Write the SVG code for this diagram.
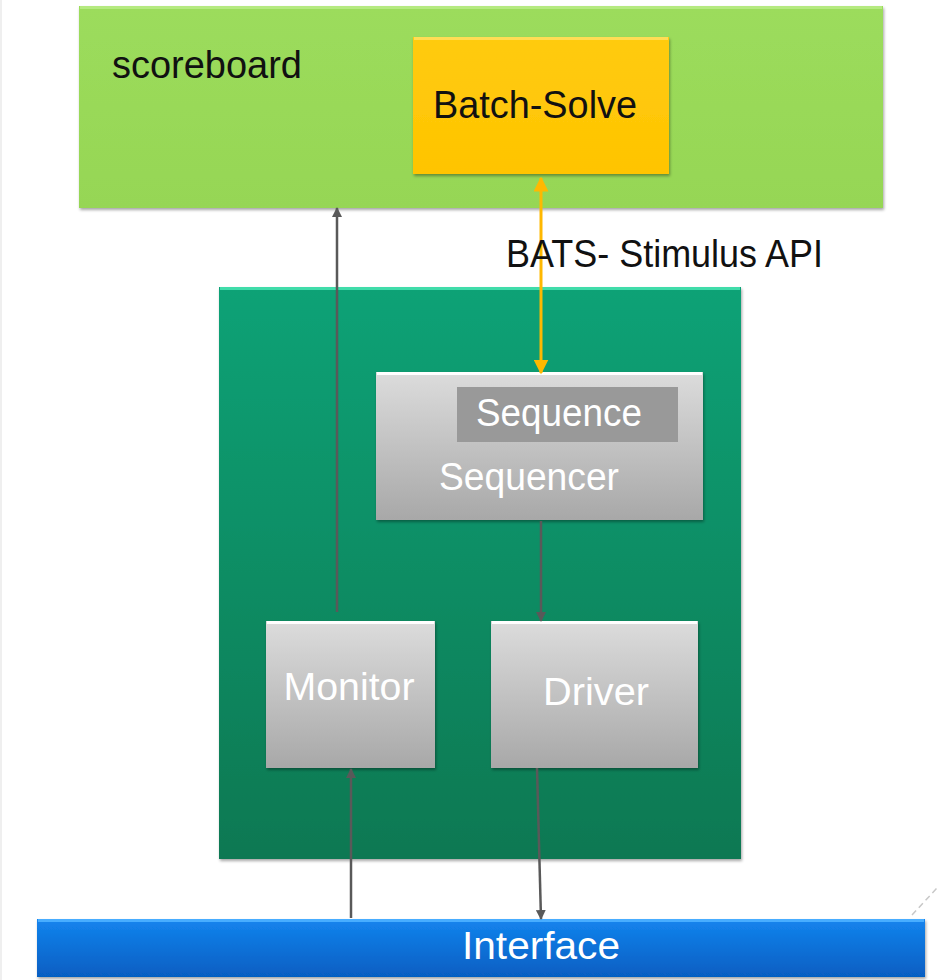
<svg xmlns="http://www.w3.org/2000/svg" width="937" height="980" viewBox="0 0 937 980">
  <defs>
    <linearGradient id="gGreen" x1="0" y1="0" x2="0" y2="1">
      <stop offset="0" stop-color="#9CDC5C"/>
      <stop offset="1" stop-color="#96D655"/>
    </linearGradient>
    <linearGradient id="gGold" x1="0" y1="0" x2="0" y2="1">
      <stop offset="0" stop-color="#FFCB10"/>
      <stop offset="1" stop-color="#FFC400"/>
    </linearGradient>
    <linearGradient id="gTeal" x1="0" y1="0" x2="0" y2="1">
      <stop offset="0" stop-color="#0AA276"/>
      <stop offset="1" stop-color="#087852"/>
    </linearGradient>
    <linearGradient id="gGray" x1="0" y1="0" x2="0" y2="1">
      <stop offset="0" stop-color="#DCDCDC"/>
      <stop offset="1" stop-color="#A8A8A8"/>
    </linearGradient>
    <linearGradient id="gBlue" x1="0" y1="0" x2="0" y2="1">
      <stop offset="0" stop-color="#1484EE"/>
      <stop offset="1" stop-color="#065EC2"/>
    </linearGradient>
    <filter id="shadow" x="-5%" y="-5%" width="110%" height="115%">
      <feDropShadow dx="1" dy="2" stdDeviation="1.5" flood-color="#000" flood-opacity="0.35"/>
    </filter>
    <marker id="arrGray" viewBox="0 0 10 10" refX="9" refY="5" markerWidth="4" markerHeight="4" orient="auto-start-reverse">
      <path d="M0,0 L10,5 L0,10 z" fill="#595959"/>
    </marker>
    <marker id="arrGold" viewBox="0 0 10 10" refX="9" refY="5" markerWidth="5" markerHeight="5" orient="auto-start-reverse">
      <path d="M0,0 L10,5 L0,10 z" fill="#FFB800"/>
    </marker>
  </defs>
  <style>
    .lbl { font-family: "Liberation Sans", Arial, sans-serif; font-size: 38px; }
    .dark { fill: #111111; }
    .light { fill: #FFFFFF; }
    .wire { stroke: #595959; stroke-width: 2.5; fill: none; }
    .gold { stroke: #FFB800; stroke-width: 3; fill: none; }
    .hi { fill: none; stroke-width: 3; }
  </style>

  <rect width="937" height="980" fill="#FFFFFF"/>
  <line x1="1" y1="0" x2="1" y2="980" stroke="#EFEFEF" stroke-width="2"/>
  <line x1="912" y1="915" x2="937" y2="888" stroke="#C8C8C8" stroke-width="1.5" stroke-dasharray="6 4"/>

  <g id="scoreboard">
    <rect x="79" y="6" width="804" height="202" fill="url(#gGreen)" filter="url(#shadow)"/>
    <line class="hi" x1="80" y1="7.5" x2="882" y2="7.5" stroke="#B5EA80"/>
    <text class="lbl dark" x="112" y="78" textLength="190" lengthAdjust="spacingAndGlyphs">scoreboard</text>
  </g>

  <g id="batch-solve">
    <rect x="413" y="37" width="256" height="137" fill="url(#gGold)" filter="url(#shadow)"/>
    <line class="hi" x1="414" y1="38.5" x2="668" y2="38.5" stroke="#FFDD55"/>
    <text class="lbl dark" x="535" y="118" text-anchor="middle" textLength="204" lengthAdjust="spacingAndGlyphs">Batch-Solve</text>
  </g>

  <g id="env">
    <rect x="219" y="287" width="522" height="572" fill="url(#gTeal)" filter="url(#shadow)"/>
    <line class="hi" x1="220" y1="288.5" x2="740" y2="288.5" stroke="#40DCAA"/>
  </g>

  <g id="sequencer">
    <rect x="376" y="372" width="327" height="148" fill="url(#gGray)" filter="url(#shadow)"/>
    <line class="hi" x1="377" y1="373.5" x2="702" y2="373.5" stroke="#FFFFFF"/>
    <text class="lbl light" x="529" y="490" text-anchor="middle" textLength="180" lengthAdjust="spacingAndGlyphs">Sequencer</text>
  </g>

  <g id="sequence">
    <rect x="457" y="387" width="221" height="55" fill="#999999"/>
    <text class="lbl light" x="559" y="426" text-anchor="middle" textLength="166" lengthAdjust="spacingAndGlyphs">Sequence</text>
  </g>

  <g id="monitor">
    <rect x="266" y="621" width="169" height="147" fill="url(#gGray)" filter="url(#shadow)"/>
    <line class="hi" x1="267" y1="622.5" x2="434" y2="622.5" stroke="#FFFFFF"/>
    <text class="lbl light" x="349" y="700" text-anchor="middle" textLength="131" lengthAdjust="spacingAndGlyphs">Monitor</text>
  </g>

  <g id="driver">
    <rect x="491" y="621" width="207" height="147" fill="url(#gGray)" filter="url(#shadow)"/>
    <line class="hi" x1="492" y1="622.5" x2="697" y2="622.5" stroke="#FFFFFF"/>
    <text class="lbl light" x="596" y="705" text-anchor="middle" textLength="106" lengthAdjust="spacingAndGlyphs">Driver</text>
  </g>

  <g id="interface">
    <rect x="37" y="919" width="888" height="58" fill="url(#gBlue)" filter="url(#shadow)"/>
    <line class="hi" x1="38" y1="920.5" x2="924" y2="920.5" stroke="#48ADFF"/>
    <text class="lbl light" x="541" y="959" text-anchor="middle" textLength="158" lengthAdjust="spacingAndGlyphs">Interface</text>
  </g>

  <g id="connectors">
    <line class="gold" x1="541" y1="178" x2="541" y2="373" marker-start="url(#arrGold)" marker-end="url(#arrGold)"/>
    <line class="wire" x1="337" y1="612" x2="337" y2="208" marker-end="url(#arrGray)"/>
    <line class="wire" x1="541" y1="521" x2="541" y2="621" marker-end="url(#arrGray)"/>
    <line class="wire" x1="351" y1="918" x2="351" y2="769" marker-end="url(#arrGray)"/>
    <line class="wire" x1="537" y1="768" x2="541" y2="919" marker-end="url(#arrGray)"/>
    <text class="lbl dark" x="506" y="267" textLength="317" lengthAdjust="spacingAndGlyphs">BATS- Stimulus API</text>
  </g>
</svg>
